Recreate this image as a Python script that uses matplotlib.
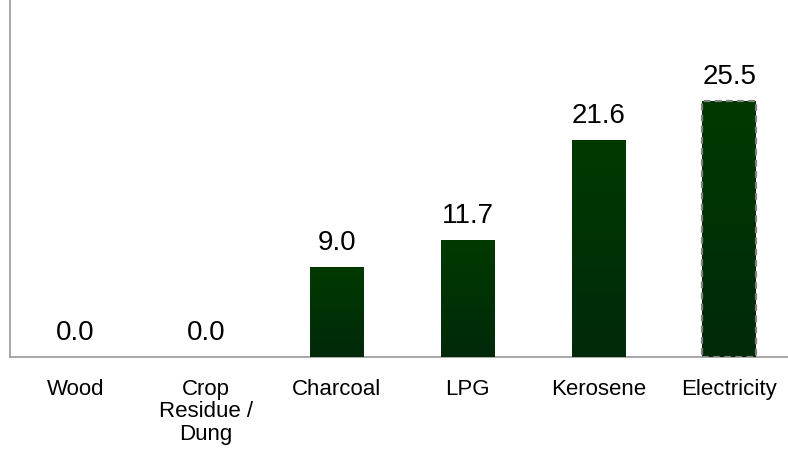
import numpy as np
import matplotlib
matplotlib.use("Agg")
import matplotlib.pyplot as plt
from matplotlib.colors import LinearSegmentedColormap

plt.rcParams['font.family'] = ['Liberation Sans', 'DejaVu Sans']

categories = ["Wood", "Crop\nResidue /\nDung", "Charcoal", "LPG", "Kerosene", "Electricity"]
values = [0.0, 0.0, 9.0, 11.7, 21.6, 25.5]

fig = plt.figure(figsize=(7.88, 4.56), dpi=100)
ax = fig.add_axes([10/788, (456-358)/456, 778/788, 358/456])

x = np.arange(len(categories))
bars = ax.bar(x, values, width=0.41, color="#003300", zorder=2)

# vertical shading inside each bar
cmap = LinearSegmentedColormap.from_list("g", ["#003a00", "#00290a"])
grad = np.linspace(0, 1, 256).reshape(-1, 1)
for b in bars:
    h = b.get_height()
    if h <= 0:
        continue
    x0 = b.get_x()
    w = b.get_width()
    im = ax.imshow(grad, cmap=cmap, aspect="auto", origin="upper",
                   extent=[x0, x0 + w, 0, h], zorder=3)
    im.set_clip_path(b)

# dashed outline on the last bar
last = bars[-1]
last.set_edgecolor("#808080")
last.set_linestyle((0, (3, 2)))
last.set_linewidth(1.6)
last.set_zorder(4)
last.set_facecolor("none")

for xi, v in zip(x, values):
    ax.text(xi, v + 1.2, f"{v:.1f}", ha="center", va="bottom", fontsize=20, color="black")

ax.set_xlim(-0.5, 5.45)
ax.set_ylim(0, 35.7)
ax.set_xticks(x)
ax.set_xticklabels(categories, fontsize=16, linespacing=1.1)
ax.tick_params(axis="x", length=0, pad=15)
ax.set_yticks([])
for s in ["top", "right"]:
    ax.spines[s].set_visible(False)
for s in ["left", "bottom"]:
    ax.spines[s].set_color("#a0a0a0")
    ax.spines[s].set_linewidth(1.3)

fig.savefig("out.png", dpi=100)
